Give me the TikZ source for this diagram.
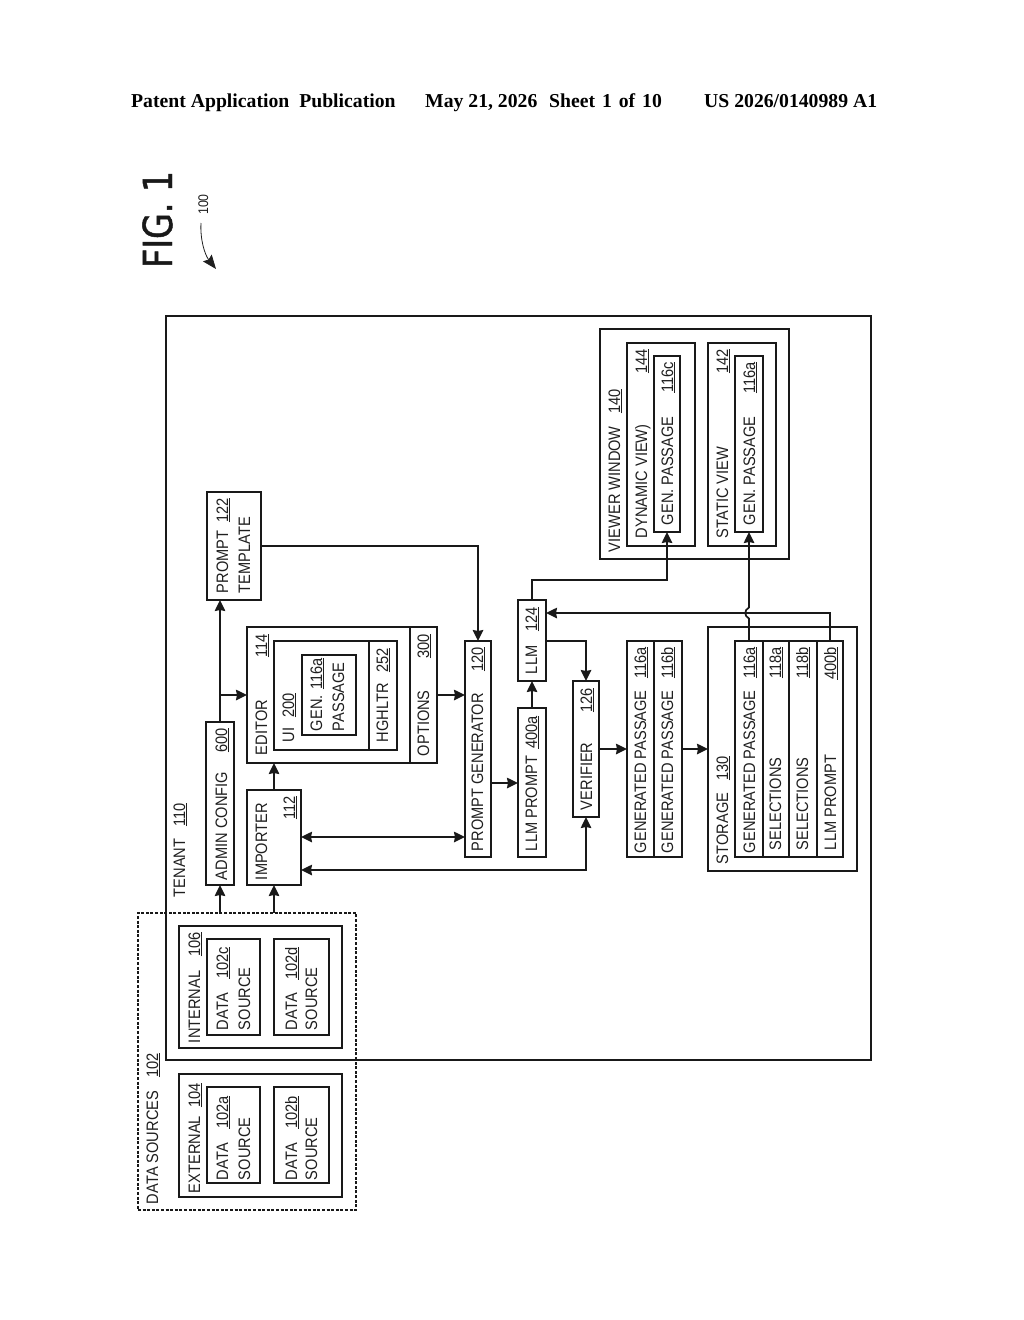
\documentclass[tikz,border=0pt]{standalone}
\usepackage{fontspec}
\usetikzlibrary{arrows.meta}
\setmainfont{Liberation Sans}
\newfontfamily\bodyfont[FakeStretch=0.88]{Liberation Sans}
\newfontfamily\figfont[FakeStretch=0.83,FakeBold=1.2]{DejaVu Sans}
\newfontfamily\headfont{Liberation Serif}
\newcounter{lb}
\newcommand\ulin[1]{\setbox0\hbox{#1}\rlap{\rule[-2.2pt]{\wd0}{1.2pt}}\box0}
\tikzset{
  lineink/.style={line width=1.7pt,draw=black!90},
  boxnode/.style={lineink,rectangle,inner sep=0pt,outer sep=0pt},
  textbase/.style={inner sep=0pt,outer sep=0pt,text=black!88,font=\bodyfont\fontsize{16.6}{19}\selectfont,rotate=90},
  labl/.style={textbase,anchor=base west},
  numr/.style={textbase,anchor=base east},
  flow/.style={lineink,-{Stealth[length=11pt,width=10.5pt,inset=1pt]}},
  bothflow/.style={lineink,{Stealth[length=11pt,width=10.5pt,inset=1pt]}-{Stealth[length=11pt,width=10.5pt,inset=1pt]}},
  headtext/.style={inner sep=0pt,anchor=base west,font=\headfont\bfseries\fontsize{19.7}{23}\selectfont}
}
\newcommand\bx[5]{\node[boxnode,minimum width={(#4-#2)*1pt},minimum height={(#5-#3)*1pt}] (#1) at ({(#2+#4)/2},{(#3+#5)/2}) {};}
\newcommand\lab[3]{\stepcounter{lb}\node[labl] (lab\arabic{lb}) at (#1,#2) {#3};}
\newcommand\num[3]{\stepcounter{lb}\node[numr] (lab\arabic{lb}) at (#1,#2) {\ulin{#3}};}
\begin{document}
\begin{tikzpicture}[x=1pt,y=-1pt]
\useasboundingbox (0,0) rectangle (1024,1320);
% header
\node[headtext] (h1) at (131,107) {Patent Application\kern5pt\ Publication};
\node[headtext] (h2) at (425,107) {May 21, 2026\kern2pt\ \ Sheet\kern2pt\ 1\kern2pt\ of\kern2pt\ 10};
\node[headtext] (h3) at (704,107) {US 2026/0140989 A1};
% figure title
\node[inner sep=0pt,anchor=base west,rotate=90,text=black!90,font=\figfont\fontsize{40}{44}\selectfont] (fig) at (172,268) {FIG. 1};
\node[inner sep=0pt,anchor=base west,rotate=90,text=black!88,font=\bodyfont\fontsize{14}{16}\selectfont] (ref) at (208,215) {100};
\coordinate (rs) at (201,223);
\coordinate (re) at (216,269);
\draw[line width=.8pt,draw=black!88,-{Stealth[length=14pt,width=11pt,inset=2pt]}] (rs) .. controls (200,240) and (205,255) .. (re);
% boxes
\bx{ten}{166}{316}{871}{1060}
\node[boxnode,dashed,dash pattern=on 3pt off 1.6pt,minimum width=218pt,minimum height=297pt] (ds) at (247,1061.5) {};
\bx{ext}{179}{1074}{342}{1197}
\bx{int}{179}{926}{342}{1048}
\bx{da}{207}{1087}{260}{1183}
\bx{db}{274}{1087}{329}{1183}
\bx{dc}{207}{939}{260}{1035}
\bx{dd}{274}{939}{329}{1035}
\bx{adm}{206}{722}{234}{885}
\bx{imp}{247}{790}{301}{885}
\bx{tpl}{207}{492}{261}{600}
\bx{ed}{247}{627}{437}{763}
\bx{ui}{274}{641}{397}{750}
\bx{gen}{302}{655}{356}{735}
\bx{pg}{465}{641}{491}{857}
\bx{lp}{518}{708}{546}{857}
\bx{llm}{518}{600}{546}{681}
\bx{ver}{573}{681}{599}{817}
\bx{gp}{627}{641}{682}{857}
\bx{st}{708}{627}{857}{871}
\bx{sgp}{735}{641}{763}{857}
\bx{ssa}{763}{641}{789}{857}
\bx{ssb}{789}{641}{817}{857}
\bx{slp}{817}{641}{843}{857}
\bx{vw}{600}{329}{789}{559}
\bx{dyn}{627}{343}{695}{546}
\bx{dg}{654}{356}{680}{532}
\bx{sv}{708}{343}{776}{546}
\bx{sg}{735}{356}{763}{532}
% dividers inside boxes
\coordinate (edopt) at (410,627);
\draw[lineink] (edopt) -- (edopt |- ed.south);
\coordinate (uihl) at (369,641);
\draw[lineink] (uihl) -- (uihl |- ui.south);
\coordinate (gpdiv) at (654,641);
\draw[lineink] (gpdiv) -- (gpdiv |- gp.south);
% connector levels
\coordinate (ya) at (0,837);
\coordinate (yb) at (0,870);
\coordinate (yc) at (0,783);
\coordinate (yd) at (0,613);
\coordinate (ye) at (0,580);
\coordinate (hopa) at (749,618.5);
\coordinate (hopb) at (749,607.5);
\coordinate (hopc) at (744,616);
\coordinate (hopd) at (744,610);
% connectors
\draw[flow] (adm.south |- ds.north) -- (adm.south);
\draw[flow] (imp.south |- ds.north) -- (imp.south);
\draw[flow] (adm.north) -- (adm.north |- tpl.south);
\draw[flow] (ed.west -| adm.north) -- (ed.west);
\draw[flow] (imp.north) -- (imp.north |- ed.south);
\draw[flow] (ed.east) -- (ed.east -| pg.west);
\draw[flow] (tpl.east) -| (pg.north);
\draw[bothflow] (imp.east |- ya) -- (pg.west |- ya);
\draw[bothflow] (imp.east |- yb) -| (ver.south);
\draw[flow] (pg.east |- yc) -- (lp.west |- yc);
\draw[flow] (lp.north) -- (llm.south);
\draw[flow] (llm.east |- pg.north) -| (ver.north);
\draw[flow] (llm.north) |- (ye -| dg.south) -- (dg.south);
\draw[flow] (ver.east) -- (gp.west);
\draw[flow] (gp.east) -- (st.west);
\draw[flow] (sgp.north) -- (hopa) .. controls (hopc) and (hopd) .. (hopb) -- (sg.south);
\draw[flow] (slp.north) -- (slp.north |- yd) -- (llm.east |- yd);
% texts
\lab{185}{897}{TENANT}\num{185}{803}{110}
\lab{158}{1204}{DATA SOURCES}\num{158}{1053}{102}
\lab{200}{1193}{EXTERNAL}\num{200}{1083}{104}
\lab{200}{1043}{INTERNAL}\num{200}{932}{106}
\lab{228}{1180}{DATA}\num{228}{1096}{102a}\lab{250}{1180}{SOURCE}
\lab{297}{1180}{DATA}\num{297}{1096}{102b}\lab{317}{1180}{SOURCE}
\lab{228}{1030}{DATA}\num{228}{947}{102c}\lab{250}{1030}{SOURCE}
\lab{297}{1030}{DATA}\num{297}{947}{102d}\lab{317}{1030}{SOURCE}
\lab{227}{880}{ADMIN CONFIG}\num{227}{728}{600}
\lab{267}{880}{IMPORTER}\num{295}{796}{112}
\lab{267}{755}{EDITOR}\num{267}{634}{114}
\lab{294}{742}{UI}\num{294}{693}{200}
\lab{322}{731}{GEN.}\num{322}{658}{116a}\lab{344}{731}{PASSAGE}
\lab{388}{742}{HGHLTR}\num{388}{648}{252}
\lab{429}{756}{OPTIONS}\num{429}{634}{300}
\lab{228}{593}{PROMPT}\num{228}{498}{122}\lab{250}{593}{TEMPLATE}
\lab{483}{851}{PROMPT GENERATOR}\num{483}{647}{120}
\lab{537}{851}{LLM PROMPT}\num{537}{716}{400a}
\lab{537}{674}{LLM}\num{537}{607}{124}
\lab{592}{810}{VERIFIER}\num{592}{688}{126}
\lab{646}{853}{GENERATED PASSAGE}\num{646}{647}{116a}
\lab{673}{853}{GENERATED PASSAGE}\num{673}{647}{116b}
\lab{728}{864}{STORAGE}\num{728}{756}{130}
\lab{755}{853}{GENERATED PASSAGE}\num{755}{647}{116a}
\lab{781}{850}{SELECTIONS}\num{781}{647}{118a}
\lab{808}{850}{SELECTIONS}\num{808}{647}{118b}
\lab{836}{850}{LLM PROMPT}\num{836}{647}{400b}
\lab{620}{552}{VIEWER WINDOW}\num{620}{389}{140}
\lab{647}{538}{DYNAMIC VIEW)}\num{647}{349}{144}
\lab{673}{525}{GEN. PASSAGE}\num{673}{362}{116c}
\lab{728}{538}{STATIC VIEW}\num{728}{349}{142}
\lab{755}{525}{GEN. PASSAGE}\num{755}{362}{116a}
\end{tikzpicture}
\end{document}
